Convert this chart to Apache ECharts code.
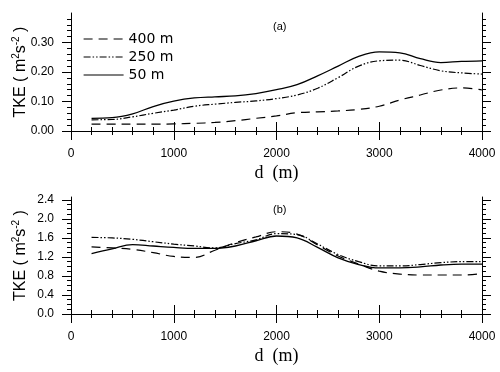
<!DOCTYPE html>
<html>
<head>
<meta charset="utf-8">
<script src="https://cdn.jsdelivr.net/npm/echarts@6/dist/echarts.min.js"></script>
<style>
  html, body { margin: 0; padding: 0; background: #fff; }
  #chart { width: 500px; height: 372px; }
</style>
</head>
<body>
<div id="chart"></div>
<script>
// distance along the path (m)
const dist = [200, 400, 600, 800, 1000, 1200, 1400, 1600, 1800, 2000,
              2200, 2400, 2600, 2800, 3000, 3200, 3400, 3600, 3800, 4000];

// panel (a)
const tkeA400 = [0.023, 0.023, 0.023, 0.023, 0.024, 0.026, 0.029, 0.035, 0.043, 0.051,
                 0.062, 0.065, 0.068, 0.073, 0.084, 0.105, 0.122, 0.139, 0.146, 0.139];
const tkeA250 = [0.038, 0.039, 0.048, 0.060, 0.071, 0.084, 0.091, 0.097, 0.102, 0.110,
                 0.122, 0.145, 0.181, 0.220, 0.238, 0.240, 0.222, 0.204, 0.197, 0.193];
const tkeA50  = [0.043, 0.045, 0.058, 0.083, 0.101, 0.112, 0.116, 0.119, 0.127, 0.140,
                 0.157, 0.187, 0.220, 0.253, 0.268, 0.265, 0.245, 0.232, 0.236, 0.238];

// panel (b)
const tkeB400 = [1.41, 1.39, 1.36, 1.29, 1.21, 1.19, 1.34, 1.50, 1.62, 1.73,
                 1.68, 1.45, 1.22, 1.05, 0.90, 0.84, 0.82, 0.82, 0.82, 0.85];
const tkeB250 = [1.61, 1.60, 1.57, 1.52, 1.47, 1.43, 1.39, 1.48, 1.56, 1.69,
                 1.67, 1.47, 1.25, 1.10, 1.01, 1.01, 1.04, 1.08, 1.10, 1.10];
const tkeB50  = [1.27, 1.37, 1.46, 1.43, 1.40, 1.38, 1.38, 1.43, 1.54, 1.64,
                 1.60, 1.40, 1.18, 1.04, 0.97, 0.97, 0.99, 1.03, 1.05, 1.05];

const names = ['400 m', '250 m', '50 m'];
const yTicksA = [0, 0.1, 0.2, 0.3];
const yTicksB = [0, 0.4, 0.8, 1.2, 1.6, 2.0, 2.4];

const FONT = 'Liberation Sans';
const black = '#000';

// minor tick positions between the labelled ticks
function minors(ticks, n) {
  const out = [];
  const step = (ticks[1] - ticks[0]) / n;
  for (let i = 0; i < (ticks.length - 1) * n + 1; i++) out.push(+(i * step).toFixed(4));
  // one more row of minors above the last label
  for (let k = 1; k < n; k++) out.push(+(ticks[ticks.length - 1] + k * step).toFixed(4));
  return out;
}

const chart = echarts.init(document.getElementById('chart'), null, { renderer: 'canvas' });

function xAxes(gi) {
  const base = {
    gridIndex: gi, type: 'value', min: 0, max: 4000, interval: 1000,
    axisLine: { show: true, lineStyle: { color: black, width: 1 } },
    axisTick: { show: true, inside: false, length: 9, lineStyle: { color: black, width: 1 } },
    minorTick: { show: true, splitNumber: 5, length: 4, lineStyle: { color: black, width: 1 } },
    splitLine: { show: false },
    minorSplitLine: { show: false }
  };
  return [
    Object.assign({}, base, {
      position: 'bottom',
      axisLabel: { color: black, fontSize: 12, fontFamily: FONT, margin: 17, formatter: v => String(v) },
      name: 'd  (m)', nameLocation: 'middle', nameGap: 33, nameMoveOverlap: false,
      nameTextStyle: { fontFamily: 'Liberation Serif', fontSize: 18, color: black, verticalAlign: 'top' }
    }),
    Object.assign({}, base, { position: 'top', axisLabel: { show: false } })
  ];
}

function yAxes(gi, yMax, ticks, nMinor, digits) {
  const minorVals = minors(ticks, nMinor).filter(v => v < yMax);
  const major = {
    gridIndex: gi, type: 'value', min: 0, max: yMax,
    axisLine: { show: true, lineStyle: { color: black, width: 1 } },
    axisTick: { show: true, inside: false, length: 9, customValues: ticks, lineStyle: { color: black, width: 1 } },
    splitLine: { show: false }
  };
  const minor = {
    gridIndex: gi, type: 'value', min: 0, max: yMax,
    axisLine: { show: false },
    axisTick: { show: true, inside: false, length: 4, customValues: minorVals, lineStyle: { color: black, width: 1 } },
    axisLabel: { show: false },
    splitLine: { show: false }
  };
  return [
    Object.assign({}, major, {
      position: 'left',
      axisLabel: {
        customValues: ticks, color: black, fontSize: 12, fontFamily: FONT, margin: 17,
        formatter: v => v.toFixed(digits)
      },
      name: 'TKE ( m{sup|2}s{sup|-2} )', nameLocation: 'middle', nameGap: 40, nameRotate: 90,
      nameMoveOverlap: false,
      nameTextStyle: {
        fontFamily: FONT, fontSize: 16, color: black, lineHeight: 20,
        rich: { sup: { fontFamily: FONT, fontSize: 10, color: black, verticalAlign: 'top', lineHeight: 12 } }
      }
    }),
    Object.assign({}, minor, { position: 'left' }),
    Object.assign({}, major, { position: 'right', axisLabel: { show: false } }),
    Object.assign({}, minor, { position: 'right' })
  ];
}

const styles = [
  { color: black, width: 1.2, type: [9, 6] },
  { color: black, width: 1.2, type: [7, 2, 1.5, 2, 1.5, 2] },
  { color: black, width: 1.3, type: 'solid' }
];

function lineSeries(name, values, xi, yi, st) {
  return {
    name: name, type: 'line', xAxisIndex: xi, yAxisIndex: yi,
    data: dist.map((d, i) => [d, values[i]]),
    smooth: 0.4, symbol: 'none', showSymbol: false,
    lineStyle: st, itemStyle: { color: black },
    emphasis: { disabled: true }
  };
}

const option = {
  animation: false,
  backgroundColor: '#fff',
  grid: [
    { left: 71, right: 18, top: 13, height: 118, outerBoundsMode: 'none', containLabel: false },
    { left: 71, right: 18, top: 197, height: 117, outerBoundsMode: 'none', containLabel: false }
  ],
  title: [
    { text: '(a)', left: 273, top: 21, padding: 0, textStyle: { fontFamily: FONT, fontSize: 11, fontWeight: 'normal', color: black } },
    { text: '(b)', left: 273, top: 204, padding: 0, textStyle: { fontFamily: FONT, fontSize: 11, fontWeight: 'normal', color: black } }
  ],
  legend: {
    data: names, orient: 'vertical', left: 83, top: 32, padding: 0,
    itemWidth: 40, itemHeight: 14, itemGap: 4,
    itemStyle: { color: 'rgba(0,0,0,0)', borderColor: 'rgba(0,0,0,0)', borderWidth: 0 },
    lineStyle: { width: 1.2 },
    textStyle: { fontFamily: 'DejaVu Sans', fontSize: 14, color: black },
    selectedMode: false
  },
  xAxis: [].concat(xAxes(0), xAxes(1)),
  yAxis: [].concat(yAxes(0, 0.4, yTicksA, 5, 2), yAxes(1, 2.46, yTicksB, 4, 1)),
  series: [
    lineSeries(names[0], tkeA400, 0, 0, styles[0]),
    lineSeries(names[1], tkeA250, 0, 0, styles[1]),
    lineSeries(names[2], tkeA50, 0, 0, styles[2]),
    lineSeries(names[0], tkeB400, 2, 4, styles[0]),
    lineSeries(names[1], tkeB250, 2, 4, styles[1]),
    lineSeries(names[2], tkeB50, 2, 4, styles[2])
  ]
};

chart.setOption(option);
</script>
</body>
</html>
